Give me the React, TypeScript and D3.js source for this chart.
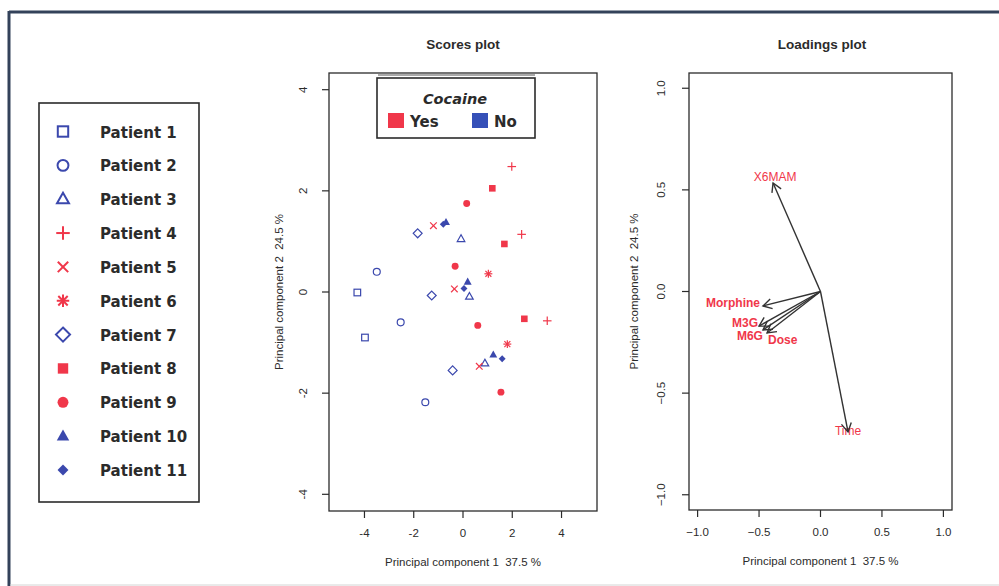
import React from "react";
import * as d3 from "d3";

// Patients and their plotting symbols (R pch codes)
const patients = [
  "Patient 1", "Patient 2", "Patient 3", "Patient 4", "Patient 5", "Patient 6",
  "Patient 7", "Patient 8", "Patient 9", "Patient 10", "Patient 11",
];
const patientPch = [0, 1, 2, 3, 4, 8, 5, 15, 16, 17, 18];
const cocaineUse = ["No", "No", "No", "Yes", "Yes", "Yes", "No", "Yes", "Yes", "No", "No"];
const cocaineLevels = ["Yes", "No"];

// PCA scores: patient index (0-based), PC1, PC2
const scorePatient = [0, 0, 1, 1, 1, 2, 2, 2, 3, 3, 3, 4, 4, 4, 5, 5, 6, 6, 6, 7, 7, 7, 8, 8, 8, 8, 9, 9, 9, 10, 10, 10];
const scorePC1 = [-4.29, -3.98, -3.5, -2.53, -1.53, -0.08, 0.26, 0.89, 1.98, 2.38, 3.42, -1.2, -0.35, 0.66, 1.03, 1.8, -1.84, -1.27, -0.42, 1.19, 1.68, 2.49, 0.15, -0.32, 0.6, 1.54, -0.69, 0.19, 1.23, -0.8, 0.04, 1.59];
const scorePC2 = [-0.01, -0.9, 0.4, -0.6, -2.18, 1.05, -0.09, -1.41, 2.48, 1.14, -0.57, 1.31, 0.06, -1.47, 0.36, -1.03, 1.16, -0.07, -1.55, 2.05, 0.95, -0.53, 1.75, 0.51, -0.66, -1.98, 1.38, 0.2, -1.24, 1.34, 0.07, -1.32];

// PCA loadings
const loadingVars = ["X6MAM", "Morphine", "M3G", "M6G", "Dose", "Time"];
const loadingPC1 = [-0.386, -0.468, -0.5, -0.468, -0.435, 0.224];
const loadingPC2 = [0.534, -0.071, -0.17, -0.189, -0.204, -0.691];

const scoreTicksX = [-4, -2, 0, 2, 4];
const scoreTicksY = [-4, -2, 0, 2, 4];
const loadTicks = [-1.0, -0.5, 0.0, 0.5, 1.0];

const xTitle = "Principal component 1  37.5 %";
const yTitle = "Principal component 2  24.5 %";

// label placement around each loading arrow tip
const labelPlacement: Record<string, { dx: number; dy: number; anchor: string; weight: string }> = {
  X6MAM: { dx: 2, dy: -6, anchor: "middle", weight: "normal" },
  Morphine: { dx: -3, dy: -3, anchor: "end", weight: "bold" },
  M3G: { dx: -1, dy: -3, anchor: "end", weight: "bold" },
  M6G: { dx: 0, dy: 6, anchor: "end", weight: "bold" },
  Dose: { dx: 1, dy: 7, anchor: "start", weight: "bold" },
  Time: { dx: 0, dy: -1, anchor: "middle", weight: "normal" },
};

const RED = "#f0374a";
const BLUE = "#3b48ad";
const INK = "#2b2b2b";
const AXIS_FONT = "'Liberation Sans', Arial, sans-serif";
const LEGEND_FONT = "'DejaVu Sans', sans-serif";

const colorOf = (p: number) => (cocaineUse[p] === "Yes" ? RED : BLUE);

function Marker({ pch, x, y, s, color, sw = 1.2 }: { pch: number; x: number; y: number; s: number; color: string; sw?: number }) {
  const stroke = { stroke: color, strokeWidth: sw, fill: "none" };
  switch (pch) {
    case 0:
      return <rect x={x - s} y={y - s} width={2 * s} height={2 * s} {...stroke} />;
    case 1:
      return <circle cx={x} cy={y} r={s * 1.05} {...stroke} />;
    case 2:
      return <polygon points={`${x},${y - s * 1.25} ${x - s * 1.15},${y + s * 0.8} ${x + s * 1.15},${y + s * 0.8}`} {...stroke} />;
    case 3:
      return (
        <g {...stroke}>
          <line x1={x - s * 1.3} x2={x + s * 1.3} y1={y} y2={y} />
          <line x1={x} x2={x} y1={y - s * 1.3} y2={y + s * 1.3} />
        </g>
      );
    case 4:
      return (
        <g {...stroke}>
          <line x1={x - s} x2={x + s} y1={y - s} y2={y + s} />
          <line x1={x - s} x2={x + s} y1={y + s} y2={y - s} />
        </g>
      );
    case 8:
      return (
        <g {...stroke}>
          <line x1={x - s * 1.2} x2={x + s * 1.2} y1={y} y2={y} />
          <line x1={x} x2={x} y1={y - s * 1.2} y2={y + s * 1.2} />
          <line x1={x - s * 0.9} x2={x + s * 0.9} y1={y - s * 0.9} y2={y + s * 0.9} />
          <line x1={x - s * 0.9} x2={x + s * 0.9} y1={y + s * 0.9} y2={y - s * 0.9} />
        </g>
      );
    case 5:
      return <polygon points={`${x},${y - s * 1.35} ${x + s * 1.35},${y} ${x},${y + s * 1.35} ${x - s * 1.35},${y}`} {...stroke} />;
    case 15:
      return <rect x={x - s} y={y - s} width={2 * s} height={2 * s} fill={color} />;
    case 16:
      return <circle cx={x} cy={y} r={s * 1.05} fill={color} />;
    case 17:
      return <polygon points={`${x},${y - s * 1.3} ${x - s * 1.2},${y + s * 0.85} ${x + s * 1.2},${y + s * 0.85}`} fill={color} />;
    case 18:
      return <polygon points={`${x},${y - s * 1.05} ${x + s * 1.05},${y} ${x},${y + s * 1.05} ${x - s * 1.05},${y}`} fill={color} />;
    default:
      return null;
  }
}

function Axes({ x, y, xTicks, yTicks, fmt, labelOff, titleOff }: { x: d3.ScaleLinear<number, number>; y: d3.ScaleLinear<number, number>; xTicks: number[]; yTicks: number[]; fmt: (v: number) => string; labelOff: number; titleOff: number }) {
  const [x0, x1] = x.range();
  const [y0, y1] = y.range();
  const cx = (x0 + x1) / 2;
  const cy = (y0 + y1) / 2;
  return (
    <g fontFamily={AXIS_FONT} fill={INK}>
      <rect x={x0} y={y1} width={x1 - x0} height={y0 - y1} fill="none" stroke={INK} strokeWidth={1.3} />
      {xTicks.map((t) => (
        <g key={"x" + t}>
          <line x1={x(t)} x2={x(t)} y1={y0} y2={y0 + 7} stroke={INK} strokeWidth={1.2} />
          <text x={x(t)} y={y0 + 26} textAnchor="middle" fontSize={11.5}>{fmt(t)}</text>
        </g>
      ))}
      {yTicks.map((t) => (
        <g key={"y" + t}>
          <line x1={x0} x2={x0 - 7} y1={y(t)} y2={y(t)} stroke={INK} strokeWidth={1.2} />
          <text transform={`translate(${x0 - labelOff},${y(t)}) rotate(-90)`} textAnchor="middle" fontSize={11.5}>{fmt(t)}</text>
        </g>
      ))}
      <text x={cx} y={y0 + 55} textAnchor="middle" fontSize={11.5} style={{ whiteSpace: "pre" }}>{xTitle}</text>
      <text transform={`translate(${x0 - titleOff},${cy}) rotate(-90)`} textAnchor="middle" fontSize={11.5} style={{ whiteSpace: "pre" }}>{yTitle}</text>
    </g>
  );
}

export default function App() {
  // Scores plot scales
  const sx = d3.scaleLinear().domain([-5.44, 5.44]).range([329, 597]);
  const sy = d3.scaleLinear().domain([-4.33, 4.33]).range([511, 73]);
  // Loadings plot scales
  const lx = d3.scaleLinear().domain([-1.07, 1.07]).range([689, 952]);
  const ly = d3.scaleLinear().domain([-1.075, 1.075]).range([510, 73]);

  const arrowHead = (x1: number, y1: number, x2: number, y2: number, len = 10, ang = Math.PI / 6) => {
    const a = Math.atan2(y2 - y1, x2 - x1);
    const p1 = [x2 - len * Math.cos(a - ang), y2 - len * Math.sin(a - ang)];
    const p2 = [x2 - len * Math.cos(a + ang), y2 - len * Math.sin(a + ang)];
    return `M${p1[0]},${p1[1]}L${x2},${y2}L${p2[0]},${p2[1]}`;
  };

  return (
    <svg width={999} height={586} style={{ position: "absolute", left: 0, top: 0, background: "#fff" }}>
      {/* outer frame */}
      <line x1={9} x2={999} y1={12} y2={12} stroke="#33425a" strokeWidth={3} />
      <line x1={9} x2={9} y1={11} y2={586} stroke="#33425a" strokeWidth={3} />
      <line x1={10} x2={999} y1={585} y2={585} stroke="#d4d4d4" strokeWidth={1} />

      {/* patient legend */}
      <rect x={39} y={103} width={160} height={399} fill="none" stroke={INK} strokeWidth={1.6} />
      {patients.map((p, i) => {
        const cy = 131.5 + i * 33.85;
        return (
          <g key={p}>
            <Marker pch={patientPch[i]} x={63} y={cy} s={5.2} color={colorOf(i)} sw={2} />
            <text x={100} y={cy + 6} fontFamily={LEGEND_FONT} fontWeight="bold" fontSize={15} fill={INK}>{p}</text>
          </g>
        );
      })}

      {/* Scores plot */}
      <text x={463} y={49} textAnchor="middle" fontFamily={AXIS_FONT} fontWeight="bold" fontSize={13.5} fill={INK}>Scores plot</text>
      <Axes x={sx} y={sy} xTicks={scoreTicksX} yTicks={scoreTicksY} fmt={(v) => String(v)} labelOff={22} titleOff={46} />
      {scorePC1.map((v, i) => (
        <Marker key={i} pch={patientPch[scorePatient[i]]} x={sx(v)} y={sy(scorePC2[i])} s={3.3} color={colorOf(scorePatient[i])} sw={1.2} />
      ))}

      {/* cocaine legend */}
      <line x1={378} x2={535} y1={75} y2={75} stroke="#555" strokeWidth={1} />
      <rect x={377} y={78} width={158} height={60} fill="#fff" stroke={INK} strokeWidth={1.6} />
      <text x={455} y={104} textAnchor="middle" fontFamily={LEGEND_FONT} fontStyle="italic" fontWeight="bold" fontSize={14.5} fill={INK}>Cocaine</text>
      {cocaineLevels.map((lv, i) => {
        const bx = i === 0 ? 388 : 472;
        return (
          <g key={lv}>
            <rect x={bx} y={113} width={16} height={15} fill={lv === "Yes" ? RED : "#3550b8"} />
            <text x={bx + 22} y={127} fontFamily={LEGEND_FONT} fontWeight="bold" fontSize={15} fill={INK}>{lv}</text>
          </g>
        );
      })}

      {/* Loadings plot */}
      <text x={822} y={49} textAnchor="middle" fontFamily={AXIS_FONT} fontWeight="bold" fontSize={13.5} fill={INK}>Loadings plot</text>
      <Axes x={lx} y={ly} xTicks={loadTicks} yTicks={loadTicks} fmt={d3.format(".1f")} labelOff={24} titleOff={51} />
      {loadingVars.map((v, i) => {
        const x0 = lx(0), y0 = ly(0);
        const x1 = lx(loadingPC1[i]), y1 = ly(loadingPC2[i]);
        const pl = labelPlacement[v];
        return (
          <g key={v}>
            <text x={x1 + pl.dx} y={y1 + pl.dy + 4} textAnchor={pl.anchor} fontFamily={AXIS_FONT} fontWeight={pl.weight} fontSize={12} fill={RED}>{v}</text>
            <line x1={x0} y1={y0} x2={x1} y2={y1} stroke="#333" strokeWidth={1.4} />
            <path d={arrowHead(x0, y0, x1, y1)} fill="none" stroke="#333" strokeWidth={1.4} />
          </g>
        );
      })}
    </svg>
  );
}
